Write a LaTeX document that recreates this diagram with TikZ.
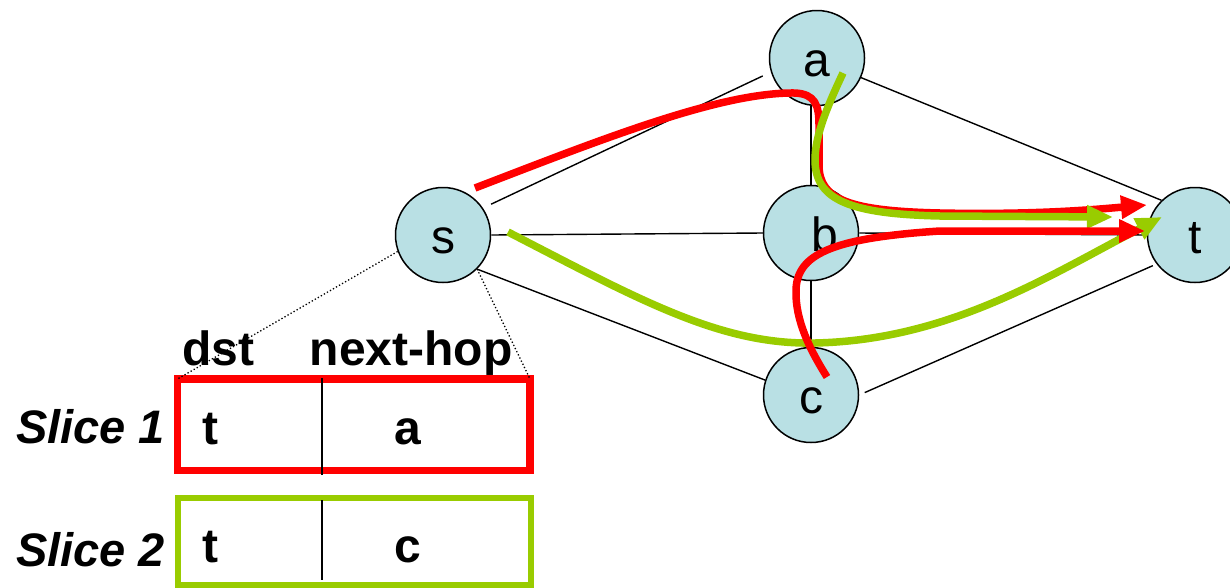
\documentclass[tikz,border=0pt]{standalone}
\usepackage{fontspec}
\setmainfont{Liberation Sans}
\usetikzlibrary{arrows.meta,calc}
\definecolor{nodefill}{RGB}{185,224,228}
\definecolor{sgreen}{RGB}{153,204,0}
\definecolor{sred}{RGB}{255,0,0}
\begin{document}
\begin{tikzpicture}[x=1pt,y=-1pt,
  vertex/.style={circle, draw, line width=1.5pt, fill=nodefill, minimum size=95pt, inner sep=0pt,
    font=\fontsize{48}{58}\selectfont, text height=43pt, text depth=7pt},
  edge/.style={line width=1.4pt},
  dots/.style={line width=1.3pt, dash pattern=on 1.3pt off 2.2pt},
  redpath/.style={draw=sred, line width=7.5pt, -{Triangle[length=26pt,width=22pt]}},
  greenpath/.style={draw=sgreen, line width=7.5pt, -{Triangle[length=26pt,width=22pt]}},
  slicebox/.style={rectangle, inner sep=0pt, outer sep=0pt},
  cell/.style={anchor=base, inner sep=0pt, font=\fontsize{48}{58}\selectfont\bfseries},
  slicelabel/.style={anchor=base west, inner sep=0pt, font=\fontsize{47}{56}\selectfont\bfseries\itshape}
]
\useasboundingbox (0,0) rectangle (1230,587);

% table
\node[slicebox, draw=sred, line width=7.5pt, minimum width=352.5pt, minimum height=91.5pt] (slice1) at (353.75,424.75) {};
\node[slicebox, draw=sgreen, line width=6pt, minimum width=353pt, minimum height=87pt] (slice2) at (354.5,541.5) {};
\draw[edge] ($(slice1.north west)+(144.5,-1)$) -- ($(slice1.south west)+(144.5,4.5)$);
\draw[edge] ($(slice2.north west)+(144,2)$) -- ($(slice2.south west)+(144,-5)$);

\node[cell] (hdst) at (218,365) {dst};
\node[cell] (hnext) at (411,365) {next-hop};
\node[cell] (t1) at (210,444) {t};
\node[cell] (n1) at (408,444) {a};
\node[cell] (t2) at (210,562) {t};
\node[cell] (n2) at (408,562) {c};
\node[slicelabel] (l1) at (16,443) {Slice 1};
\node[slicelabel] (l2) at (16,566) {Slice 2};

% graph nodes
\node[vertex] (a) at (817,58) {a};
\node[vertex] (b) at (811,233) {\hspace*{28pt}b};
\node[vertex] (s) at (443,235) {s};
\node[vertex] (c) at (811,395) {c};
\node[vertex] (t) at (1195,235) {t};

% edges
\draw[edge, shorten <=9pt, shorten >=9pt] (s.34) -- (a.197);
\draw[edge] (s.0) -- (b.180);
\draw[edge] (s.315) -- (c.162);
\draw[edge] (b.north) -- (b.north |- a.south);
\draw[edge] (b.south) -- (c.north);
\draw[edge] (a.336) -- (t.134);
\draw[edge] (b.0) -- (t.180);
\draw[edge, shorten <=6pt, shorten >=4pt] (c.0) -- (t.217);

% dotted lines to the table
\draw[dots] (s.200) -- (slice1.north west);
\draw[dots] (s.315) -- (slice1.north east);

% slice paths
\coordinate (r1s) at ($(s)+(32,-47)$);
\coordinate (r1e) at ($(t)+(-48,-30)$);
\coordinate (g1s) at ($(a)+(26,15)$);
\coordinate (g1e) at ($(t)+(-82,-18)$);
\coordinate (r2s) at ($(c)+(16,-18)$);
\coordinate (r2e) at ($(t)+(-50,-4)$);
\coordinate (g2s) at ($(s)+(65,-3)$);
\coordinate (g2e) at ($(t)+(-33,-18)$);

\draw[redpath] (r1s) .. controls (600,140) and (720,92) .. (795,93)
  .. controls (815,94) and (819,105) .. (819,125) -- (819,165)
  .. controls (819,200) and (850,211) .. (940,213)
  .. controls (1040,215) and (1100,209) .. (r1e);
\draw[greenpath] (g1s) .. controls (828,105) and (815,135) .. (815,160)
  .. controls (815,200) and (850,214) .. (940,216) -- (g1e);
\draw[greenpath] (g2s) .. controls (640,300) and (720,345) .. (815,343)
  .. controls (950,340) and (1050,275) .. (g2e);
\draw[redpath] (r2s) .. controls (810,350) and (795,320) .. (796,290)
  .. controls (797,255) and (830,238) .. (940,231) -- (r2e);
\end{tikzpicture}
\end{document}
